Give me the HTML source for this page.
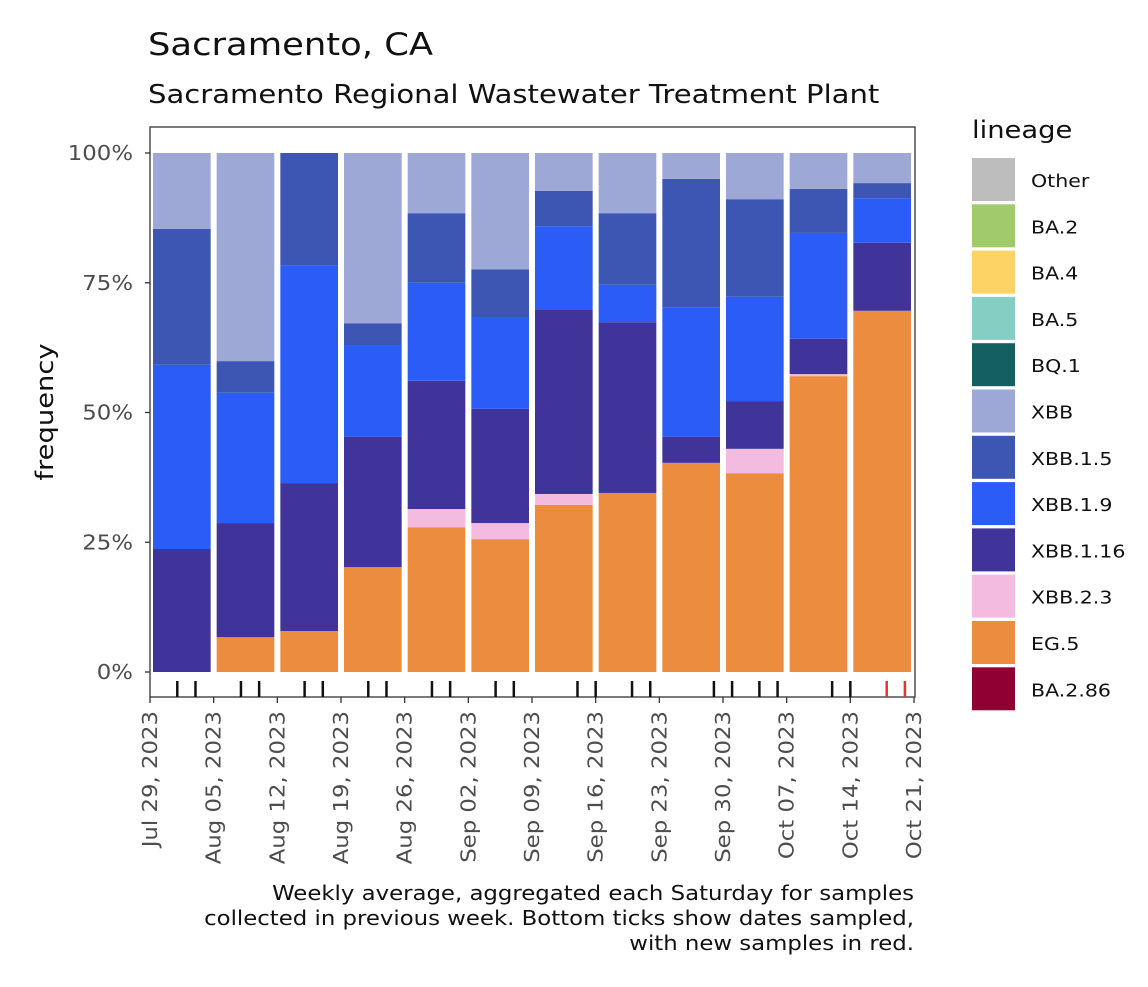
<!DOCTYPE html>
<html><head><meta charset="utf-8"><style>
body{margin:0;background:#fff;}
svg text{font-family:"DejaVu Sans","Liberation Sans",sans-serif;}
</style></head><body>
<svg id="svg" width="1148" height="982" xmlns="http://www.w3.org/2000/svg">
<text class="k" x="148" y="55" font-size="31" fill="#111">Sacramento, CA</text>
<text class="k" x="148" y="103" font-size="25.5" fill="#111">Sacramento Regional Wastewater Treatment Plant</text>
<text class="k" transform="translate(53,412) rotate(-90)" text-anchor="middle" font-size="24" fill="#111">frequency</text>
<g id="plot"></g>
<g id="legend"></g>
<text class="k" x="914" y="900" text-anchor="end" font-size="20" fill="#111">Weekly average, aggregated each Saturday for samples</text>
<text class="k" x="914" y="925" text-anchor="end" font-size="20" fill="#111">collected in previous week. Bottom ticks show dates sampled,</text>
<text class="k" x="914" y="950" text-anchor="end" font-size="20" fill="#111">with new samples in red.</text>
</svg>
<script>
const lineages=["Other","BA.2","BA.4","BA.5","BQ.1","XBB","XBB.1.5","XBB.1.9","XBB.1.16","XBB.2.3","EG.5","BA.2.86"];
const colors=["#bdbdbd","#a1cb6a","#fdd365","#85cec3","#145f5f","#9ea8d7","#3d56b4","#2b5cf6","#40339a","#f2bbdf","#ec8c3f","#910033"];
const weekLabels=["Jul 29, 2023","Aug 05, 2023","Aug 12, 2023","Aug 19, 2023","Aug 26, 2023","Sep 02, 2023","Sep 09, 2023","Sep 16, 2023","Sep 23, 2023","Sep 30, 2023","Oct 07, 2023","Oct 14, 2023","Oct 21, 2023"];
// stacking order bottom->top: EG.5, XBB.2.3, XBB.1.16, XBB.1.9, XBB.1.5, XBB
const egValues=[0,6.7,7.9,20.2,27.9,25.6,32.2,34.5,40.3,38.3,57.0,69.6];
const xbb23Values=[0,0,0,0,3.5,3.1,2.1,0,0,4.7,0.4,0];
const xbb116Values=[23.7,22.0,28.5,25.1,24.7,22.0,35.6,32.9,5.0,9.2,6.8,13.1];
const xbb19Values=[35.5,25.1,42.0,17.7,18.9,17.7,16.0,7.2,25.0,20.1,20.4,8.6];
const xbb15Values=[26.2,6.1,21.6,4.2,13.4,9.2,6.8,13.8,24.7,18.8,8.5,2.9];
const xbbValues=[14.6,40.1,0,32.8,11.6,22.4,7.3,11.6,5.0,8.9,6.9,5.8];
const yTicks=[0,25,50,75,100];
const sampleDays=[3,5,10,12,17,19,24,26,31,33,38,40,47,49,53,55,62,64,67,69,75,77,81,83];
const sampleNew=[0,0,0,0,0,0,0,0,0,0,0,0,0,0,0,0,0,0,0,0,0,0,1,1];

const NS="http://www.w3.org/2000/svg";
const X0=150,X1=915,Y0=672,Y100=153;
const xDay=d=>X0+(X1-1-X0)*d/84;
const yPct=p=>Y0-(Y0-Y100)*p/100;
function mk(t,a,p){const e=document.createElementNS(NS,t);for(const k in a)e.setAttribute(k,a[k]);(p||plot).appendChild(e);return e;}
const plot=document.getElementById('plot');
const legend=document.getElementById('legend');
const frame=mk('rect',{x:X0,y:127,width:X1-X0,height:570,fill:'none',stroke:'#333','stroke-width':1.3});


const stack=[[egValues,10],[xbb23Values,9],[xbb116Values,8],[xbb19Values,7],[xbb15Values,6],[xbbValues,5]];
for(let i=0;i<12;i++){
  let cum=0;
  const xl=xDay(i*7)+3,xr=xDay(i*7+7)-3;
  for(const [arr,ci] of stack){
    const v=arr[i]; if(v<=0)continue;
    const r=mk('rect',{x:xl,y:yPct(cum+v),width:xr-xl,height:yPct(cum)-yPct(cum+v),fill:colors[ci]});
    
    
    cum+=v;
  }
}
yTicks.forEach(t=>{
  const y=yPct(t);
  mk('line',{x1:X0-5,x2:X0,y1:y,y2:y,stroke:'#333','stroke-width':1.3});
  const tx=mk('text',{class:'k',x:X0-17,y:y+7,'text-anchor':'end','font-size':20,fill:'#4d4d4d'});
  tx.textContent=t+'%';
  
  
});
sampleDays.forEach((d,i)=>{
  const x=xDay(d);
  const l=mk('line',{x1:x,x2:x,y1:681,y2:697,stroke:sampleNew[i]?'#e8332e':'#111','stroke-width':2.5});
  
  
});
weekLabels.forEach((s,i)=>{
  const x=xDay(i*7);
  mk('line',{x1:x,x2:x,y1:697,y2:703,stroke:'#333','stroke-width':1.3});
  const tx=mk('text',{class:'k',transform:`translate(${x+7},711) rotate(-90)`,'text-anchor':'end','font-size':20,fill:'#4d4d4d'});
  tx.textContent=s;
  
  
});
const lt=mk('text',{class:'k',x:972,y:138,'font-size':24,fill:'#111'},legend);
lt.textContent='lineage';


lineages.forEach((n,i)=>{
  const y=158+i*46.3;
  const r=mk('rect',{x:972,y:y,width:43,height:43,fill:colors[i]},legend);
  
  
  const t=mk('text',{class:'k',x:1031,y:y+29,'font-size':18,fill:'#111'},legend);
  t.textContent=n;
  
  
});
document.querySelectorAll('text.k').forEach(t=>{
  const w=t.getComputedTextLength();
  t.setAttribute('textLength',(w*1.14).toFixed(1));
  t.setAttribute('lengthAdjust','spacingAndGlyphs');
});
</script>
</body></html>
